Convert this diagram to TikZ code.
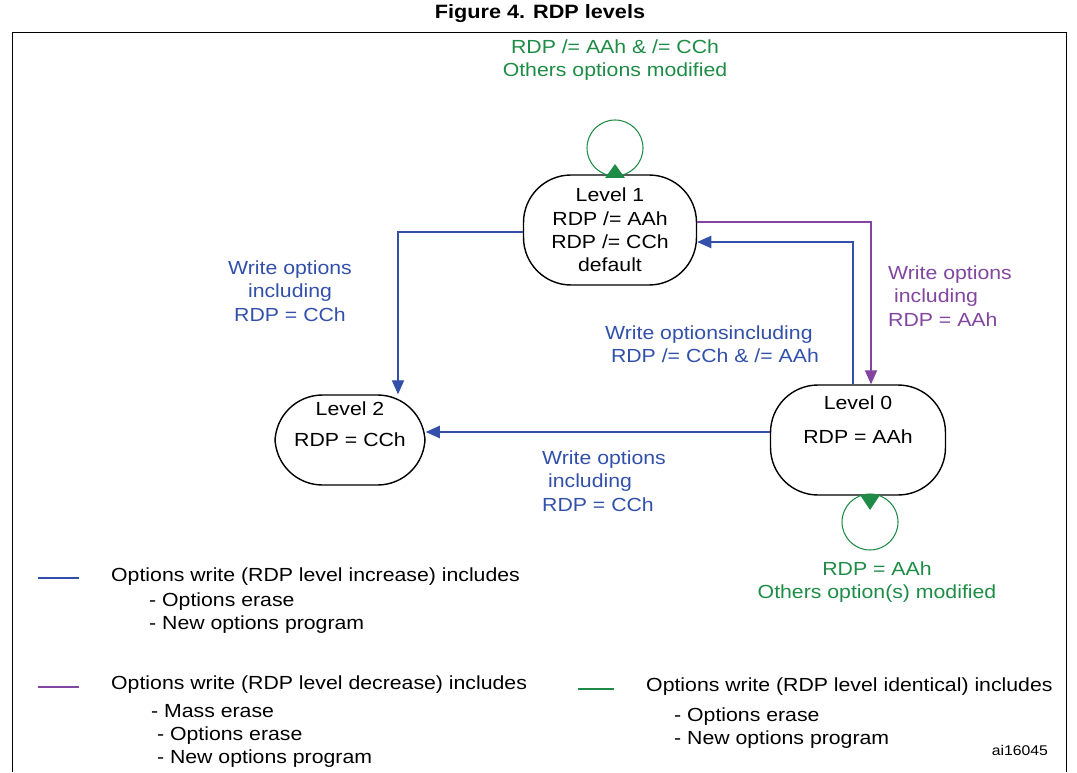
\documentclass[tikz,border=0pt]{standalone}
\usepackage{fontspec}
\setmainfont{Liberation Sans}[FakeStretch=1.12]
\usetikzlibrary{arrows.meta}
\definecolor{stblue}{RGB}{50,80,170}
\definecolor{stpurple}{RGB}{130,70,160}
\definecolor{stgreen}{RGB}{30,140,70}
\begin{document}
\begin{tikzpicture}[x=0.02cm,y=-0.02cm,
    every node/.style={font=\fontsize{10.8}{13.3}\selectfont},
    state/.style={draw,thick,rounded corners=27pt,minimum width=3.46cm,minimum height=2.2cm,align=center,inner sep=0pt},
    lbl/.style={align=center},
    blu/.style={stblue,semithick,-{Triangle[length=8pt,width=7pt]}},
    pur/.style={stpurple,semithick,-{Triangle[length=8pt,width=7pt]}},
    grn/.style={stgreen,semithick}]
    \useasboundingbox (0,0) rectangle (1077,773);
    \node[font=\fontsize{11}{12}\selectfont\bfseries] (title) at (540,14) {Figure 4. RDP levels};
    \draw[thin] (12,772) -- (12,32) -- (1066,32) -- (1066,772);

    \node[state] (l1) at (610,230) {Level 1\\RDP /= AAh\\RDP /= CCh\\default};
    \node[state,minimum width=3cm,minimum height=1.8cm] (l2) at (350,440) {Level 2\\[4pt]RDP = CCh\\[5pt]};
    \node[state,minimum width=3.5cm] (l0) at (858,440) {Level 0\\[6pt]RDP = AAh\\[10pt]};

    \coordinate (c1) at (398,232);
    \coordinate (c2) at (853,242);
    \coordinate (c3) at (871,222);
    \draw[blu] (l1.west |- c1) -- (c1) -- (c1 |- l2.north);
    \draw[blu] (c2 |- l0.north) -- (c2) -- (l1.east |- c2);
    \draw[pur] (l1.east |- c3) -- (c3) -- (c3 |- l0.north);
    \draw[blu] (l0.west |- 0,432) -- (l2.east |- 0,432);

    % self loops
    \draw[grn] (615,148) circle (28);
    \fill[stgreen] (615,164) -- (605,178) -- (625,178) -- cycle;
    \draw[grn] (870,522) circle (28);
    \fill[stgreen] (870,510) -- (860,495) -- (880,495) -- cycle;

    \node[lbl,stblue] (t1) at (290,291) {Write options\\including\\RDP = CCh};
    \node[lbl,stblue,align=left] (t2) at (712,344) {Write optionsincluding\\\ RDP /= CCh \& /= AAh};
    \node[lbl,stpurple,align=left] (t3) at (950,296) {Write options\\\ including\\RDP = AAh};
    \node[lbl,stblue,align=left] (t4) at (604,481) {Write options\\\ including\\RDP = CCh};
    \node[lbl,stgreen] (t5) at (615,60) {RDP /= AAh \& /= CCh\\Others options modified};
    \node[lbl,stgreen] (t6) at (877,582) {RDP = AAh\\Others option(s) modified};

    % legend
    \draw[stblue,semithick] (38,578) -- (79,578);
    \node[anchor=west] (k1) at (105,577) {Options write (RDP level increase) includes};
    \node[anchor=west,align=left] (k1a) at (143,613) {- Options erase\\- New options program};
    \draw[stpurple,semithick] (38,687) -- (79,687);
    \node[anchor=west] (k2) at (105,685) {Options write (RDP level decrease) includes};
    \node[anchor=west,align=left] (k2a) at (145,736) {- Mass erase\\\ - Options erase\\\ - New options program};
    \draw[stgreen,semithick] (578,689) -- (614,689);
    \node[anchor=west] (k3) at (640,687) {Options write (RDP level identical) includes};
    \node[anchor=west,align=left] (k3a) at (668,728) {- Options erase\\- New options program};
    \node[anchor=east,font=\fontsize{8}{10}\selectfont] (id) at (1054,750) {ai16045};
\end{tikzpicture}
\end{document}
